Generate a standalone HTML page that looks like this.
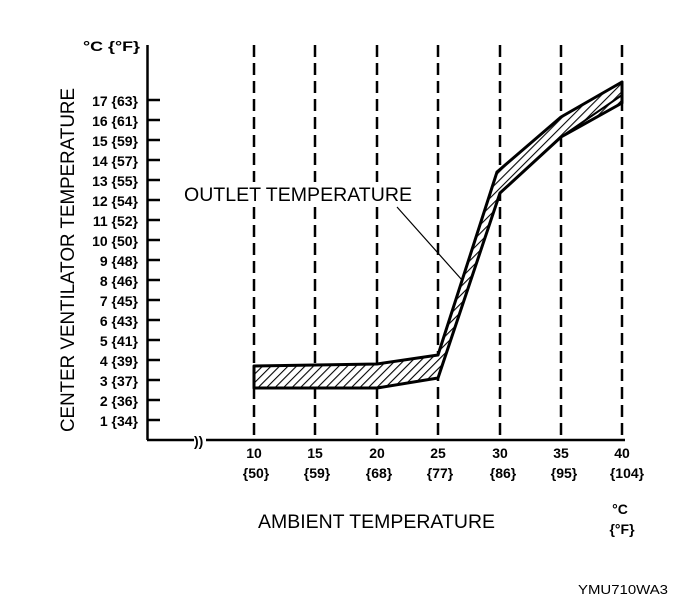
<!DOCTYPE html>
<html><head><meta charset="utf-8"><style>
body{margin:0;background:#fff}
svg{display:block}
text{font-family:"Liberation Sans",Arial,sans-serif;fill:#000}
.b{font-weight:bold;font-size:14px}
</style></head><body>
<svg width="688" height="608" viewBox="0 0 688 608" xmlns="http://www.w3.org/2000/svg">
<defs>
<pattern id="h" patternUnits="userSpaceOnUse" width="6" height="6" patternTransform="rotate(45)">
<rect width="6" height="6" fill="#fff"/><line x1="0" y1="0" x2="0" y2="6" stroke="#000" stroke-width="2.2"/>
</pattern>
</defs>
<text x="83" y="51" class="b" textLength="57" lengthAdjust="spacingAndGlyphs">°C {°F}</text>
<text transform="translate(74,260) rotate(-90)" text-anchor="middle" font-size="19" textLength="344" lengthAdjust="spacingAndGlyphs">CENTER VENTILATOR TEMPERATURE</text>
<!-- y axis -->
<line x1="147.5" y1="45" x2="147.5" y2="440" stroke="#000" stroke-width="2.5"/>
<line x1="147" y1="440" x2="194" y2="440" stroke="#000" stroke-width="2.5"/>
<line x1="206" y1="440" x2="625" y2="440" stroke="#000" stroke-width="2.5"/>
<text x="194" y="446" font-size="14" font-weight="bold">))</text>
<g stroke="#000" stroke-width="2.5">
<line x1="147" y1="100" x2="160" y2="100"/><line x1="147" y1="120" x2="160" y2="120"/><line x1="147" y1="140" x2="160" y2="140"/><line x1="147" y1="160" x2="160" y2="160"/><line x1="147" y1="180" x2="160" y2="180"/><line x1="147" y1="200" x2="160" y2="200"/><line x1="147" y1="220" x2="160" y2="220"/><line x1="147" y1="240" x2="160" y2="240"/><line x1="147" y1="260" x2="160" y2="260"/><line x1="147" y1="280" x2="160" y2="280"/><line x1="147" y1="300" x2="160" y2="300"/><line x1="147" y1="320" x2="160" y2="320"/><line x1="147" y1="340" x2="160" y2="340"/><line x1="147" y1="360" x2="160" y2="360"/><line x1="147" y1="380" x2="160" y2="380"/><line x1="147" y1="400" x2="160" y2="400"/><line x1="147" y1="420" x2="160" y2="420"/>
</g>
<g class="b" text-anchor="end" font-size="15">
<text x="138" y="106">17 {63}</text><text x="138" y="126">16 {61}</text><text x="138" y="146">15 {59}</text><text x="138" y="166">14 {57}</text><text x="138" y="186">13 {55}</text><text x="138" y="206">12 {54}</text><text x="138" y="226">11 {52}</text><text x="138" y="246">10 {50}</text><text x="138" y="266">9 {48}</text><text x="138" y="286">8 {46}</text><text x="138" y="306">7 {45}</text><text x="138" y="326">6 {43}</text><text x="138" y="346">5 {41}</text><text x="138" y="366">4 {39}</text><text x="138" y="386">3 {37}</text><text x="138" y="406">2 {36}</text><text x="138" y="426">1 {34}</text>
</g>
<!-- dashed verticals -->
<g stroke="#000" stroke-width="2.5" stroke-dasharray="12,6">
<line x1="254" y1="45" x2="254" y2="440"/><line x1="315" y1="45" x2="315" y2="440"/><line x1="377" y1="45" x2="377" y2="440"/><line x1="438" y1="45" x2="438" y2="440"/><line x1="500" y1="45" x2="500" y2="440"/><line x1="561" y1="45" x2="561" y2="440"/><line x1="622" y1="45" x2="622" y2="440"/>
</g>
<!-- band -->
<polygon points="254,366 377,364 438,355 497,172 561,117 622,82 622,103 561,137 500,193 438,378 377,388 254,388" fill="url(#h)" stroke="#000" stroke-width="3" stroke-linejoin="round"/>
<polyline points="561,137 622,95" fill="none" stroke="#000" stroke-width="2"/>
<rect x="182" y="182" width="232" height="24" fill="#fff"/>
<text x="184" y="201" font-size="19" textLength="228" lengthAdjust="spacingAndGlyphs">OUTLET TEMPERATURE</text>
<line x1="397" y1="207" x2="462" y2="280" stroke="#000" stroke-width="1.2"/>
<g class="b" text-anchor="middle" font-size="15">
<text x="254" y="458">10</text><text x="315" y="458">15</text><text x="377" y="458">20</text><text x="438" y="458">25</text><text x="500" y="458">30</text><text x="561" y="458">35</text><text x="622" y="458">40</text>
<text x="256" y="478">{50}</text><text x="317" y="478">{59}</text><text x="379" y="478">{68}</text><text x="440" y="478">{77}</text><text x="503" y="478">{86}</text><text x="564" y="478">{95}</text><text x="627" y="478">{104}</text>
<text x="620" y="514">°C</text><text x="622" y="534">{°F}</text>
</g>
<text x="258" y="528" font-size="19" textLength="237" lengthAdjust="spacingAndGlyphs">AMBIENT TEMPERATURE</text>
<text x="578" y="594" font-size="13" textLength="90" lengthAdjust="spacingAndGlyphs">YMU710WA3</text>
</svg>
</body></html>
